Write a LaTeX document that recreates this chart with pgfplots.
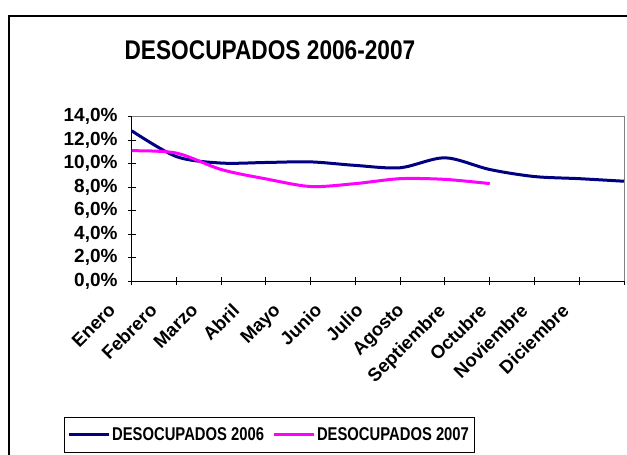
\documentclass[border=0pt]{standalone}
\usepackage{fontspec}
\setmainfont{Liberation Sans}
\usepackage{graphicx}
\usepackage{pgfplots}
\usepackage{pgfplotstable}
\pgfplotsset{compat=1.18}
\definecolor{navyline}{RGB}{0,0,128}
\definecolor{pinkline}{RGB}{255,0,255}
\definecolor{plotgray}{RGB}{128,128,128}

\pgfplotstableread{
m v
0 12.8
1 10.6
2 10.05
3 10.1
4 10.15
5 9.85
6 9.65
7 10.5
8 9.5
9 8.9
10 8.72
11 8.5
}\dataA

\pgfplotstableread{
m v
0 11.1
1 10.9
2 9.5
3 8.7
4 8.05
5 8.3
6 8.72
7 8.66
8 8.3
}\dataB

\begin{document}
\begin{tikzpicture}
\path[use as bounding box] (0pt,0pt) rectangle (627pt,-455pt);
\draw[line width=1.5pt] (9pt,-470pt) -- (9pt,-16pt) -- (640pt,-16pt);
\node[font=\fontsize{27}{30}\selectfont\bfseries] at (270pt,-50.3pt) {\scalebox{0.84}[1]{DESOCUPADOS 2006-2007}};
\begin{axis}[
  at={(131.7pt,-281pt)}, anchor=south west,
  width=492.3pt, height=164.3pt, scale only axis,
  xmin=0, xmax=11, ymin=0, ymax=14,
  xtick={0,...,11}, xticklabels={},
  ytick={0,2,...,14},
  axis x line*=bottom, axis y line*=left,
  axis line style={-, black, line width=1pt},
  tick align=center, major tick length=8pt,
  tick style={black, line width=1pt},
  yticklabel style={font=\fontsize{19}{19}\selectfont\bfseries, /pgf/number format/assume math mode=true, inner sep=0pt, xshift=-10pt},
  yticklabel={\pgfmathprintnumber[fixed,fixed zerofill,precision=1,use comma]{\tick}\%},
  clip=false,
  legend columns=2,
  legend image code/.code={\draw[#1] (0pt,0pt) -- (40pt,0pt);},
  legend style={at={(0.279,-0.937)}, anchor=center, draw=black, line width=0.8pt,
    font=\fontsize{18.5}{20}\selectfont\bfseries, inner xsep=3pt, inner ysep=2pt,
    nodes={minimum height=31pt},
    /tikz/every even column/.append style={column sep=6pt}},
]
\draw[plotgray, line width=1pt] (rel axis cs:0,1) -- (rel axis cs:1,1) -- (rel axis cs:1,0);
\addplot[navyline, line width=3pt, smooth] table[x=m,y=v]{\dataA};
\addlegendentry{\scalebox{0.8}[1]{DESOCUPADOS 2006}}
\addplot[pinkline, line width=3pt, smooth] table[x=m,y=v]{\dataB};
\addlegendentry{\scalebox{0.8}[1]{DESOCUPADOS 2007}}
\end{axis}
\foreach \n [count=\i from 0] in {Enero,Febrero,Marzo,Abril,Mayo,Junio,Julio,Agosto,Septiembre,Octubre,Noviembre,Diciembre}
  \node[rotate=45, anchor=north east, inner sep=0pt, font=\fontsize{18.5}{18.5}\selectfont\bfseries] at ({107.4pt+41.2pt*\i},-302pt) {\n};
\end{tikzpicture}
\end{document}
